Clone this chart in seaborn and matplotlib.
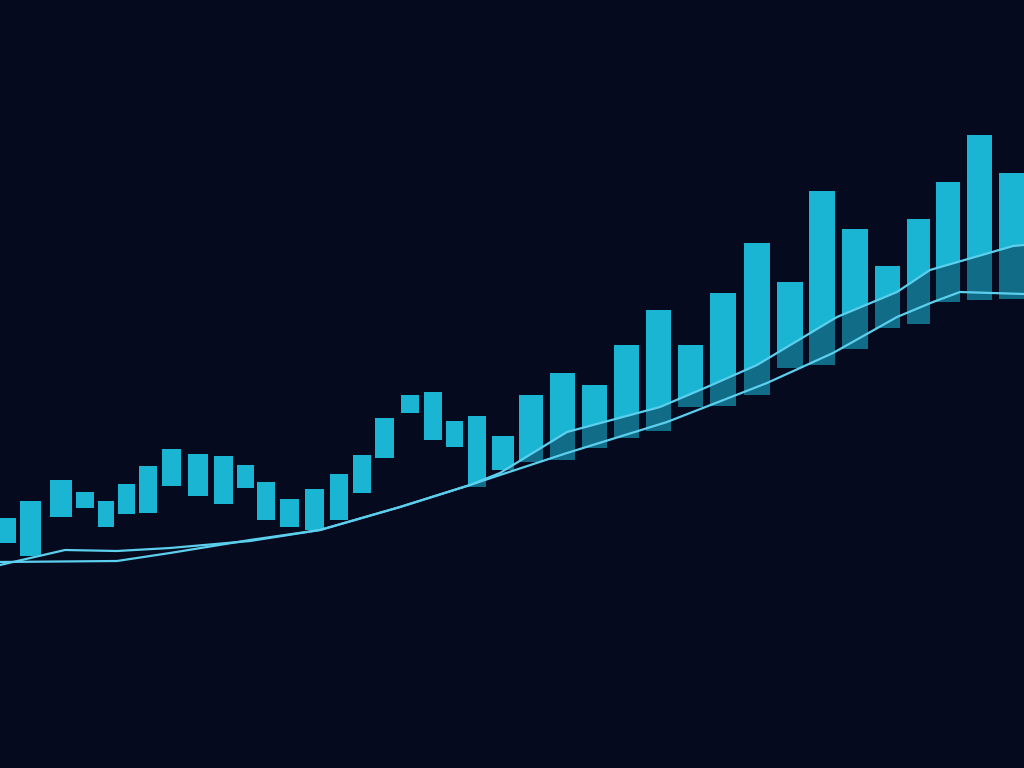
import numpy as np
import pandas as pd
import seaborn as sns
import matplotlib.pyplot as plt

# Floating bars: position, bottom and top (price units)
bar_x = [6, 30.5, 61, 85, 106, 126.5, 148, 171.5, 198, 223.5, 245.5, 266, 289.5,
         314.5, 339, 362, 384.5, 410, 433, 454.5, 477, 503, 531, 562.5, 594.5,
         626.5, 658.5, 690.5, 723, 757, 790, 822, 855, 887.5, 918.5, 948, 979.5, 1012]
bar_low = [225, 212, 251, 260, 241, 254, 255, 282, 272, 264, 280, 248, 241,
           238, 248, 275, 310, 355, 328, 321, 281, 298, 306, 308, 320,
           330, 337, 361, 362, 373, 400, 403, 419, 440, 444, 466, 468, 469]
bar_high = [250, 267, 288, 276, 267, 284, 302, 319, 314, 312, 303, 286, 269,
            279, 294, 313, 350, 373, 376, 347, 352, 332, 373, 395, 383,
            423, 458, 423, 475, 525, 486, 577, 539, 502, 549, 586, 633, 595]

# Two moving-average lines
fast_x = [0, 65, 117, 170, 250, 320, 400, 470, 500, 567, 660, 707, 757, 777,
          837, 897, 930, 1013, 1024]
fast_y = [203, 218, 217, 220, 227, 238, 261, 283, 295, 336, 361, 381, 403, 415,
          451, 476, 498, 522, 523]
slow_x = [0, 117, 170, 250, 320, 400, 470, 500, 567, 667, 767, 833, 897, 933,
          960, 1024]
slow_y = [206, 207, 215, 228, 238, 261, 283, 293, 315, 346, 385, 415, 451, 466,
          476, 474]

bg = "#050a1e"
bar_color = "#1ab5d3"
line_color = "#5ccfee"

sns.set_theme(style="dark", rc={"axes.facecolor": bg, "figure.facecolor": bg})

fig = plt.figure(figsize=(10.24, 7.68), dpi=100)
ax = fig.add_axes([0, 0, 1, 1])

x = np.array(bar_x)
widths = np.gradient(x) * 0.78
lows = np.array(bar_low)
highs = np.array(bar_high)
ax.bar(x, highs - lows, bottom=lows, width=widths, color=bar_color,
       linewidth=0, zorder=2)

# darker shade on the part of each bar under the upper line
upper_x = np.array(fast_x)
upper_y = np.maximum(np.array(fast_y), np.interp(upper_x, slow_x, slow_y))
ax.fill_between(upper_x, 0, upper_y, color=bg, alpha=0.42, linewidth=0, zorder=3)

df_fast = pd.DataFrame({"x": fast_x, "y": fast_y})
df_slow = pd.DataFrame({"x": slow_x, "y": slow_y})
sns.lineplot(data=df_fast, x="x", y="y", ax=ax, color=line_color, linewidth=1.6,
             sort=False, zorder=4)
sns.lineplot(data=df_slow, x="x", y="y", ax=ax, color=line_color, linewidth=1.6,
             sort=False, zorder=4)

ax.set_xlim(0, 1024)
ax.set_ylim(0, 768)
ax.set_axis_off()

fig.savefig("out.png", dpi=100, facecolor=bg)
